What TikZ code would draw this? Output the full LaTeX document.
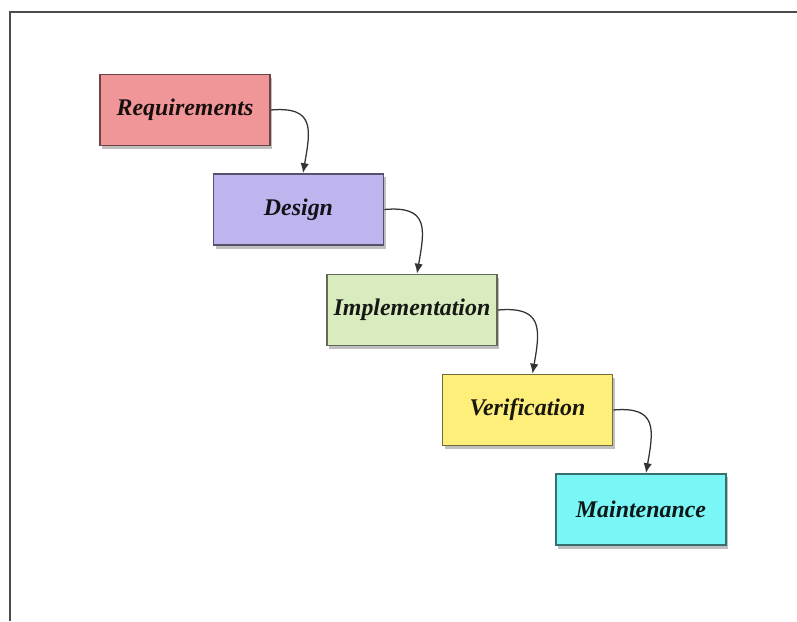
\documentclass[tikz,border=0pt]{standalone}
\usepackage{fontspec}
\setmainfont{Liberation Serif}
\usetikzlibrary{shadows,calc,arrows.meta}

\definecolor{reqfill}{RGB}{240,150,152}
\definecolor{desfill}{RGB}{190,180,238}
\definecolor{impfill}{RGB}{216,236,192}
\definecolor{verfill}{RGB}{254,238,122}
\definecolor{mntfill}{RGB}{122,246,246}

\begin{document}
\begin{tikzpicture}[x=0.025cm,y=-0.025cm,
		phase/.style={draw=#1!45!black,fill=#1,line width=1.2pt,
			minimum width=4.25cm,minimum height=1.78cm,inner sep=0pt,
			text=#1!10!black,font=\fontsize{17}{20}\selectfont\bfseries\itshape,
			drop shadow={shadow xshift=1.5pt,shadow yshift=-2.5pt,opacity=0.5}},
		flow/.style={-{Latex[length=7pt,width=6pt]},draw=black!80,line width=0.9pt,
			out=5,in=80,looseness=1.6}]
		\useasboundingbox (0,0) rectangle (797,621);

		% frame
		\draw[black!70,line width=1.4pt] (10,621) -- (10,12) -- (797,12);

		\node[phase=reqfill] (req) at (185,110) {Requirements};
		\node[phase=desfill] (des) at (298.5,209.5) {Design};
		\node[phase=impfill] (imp) at (412,310) {Implementation};
		\node[phase=verfill] (ver) at (527.5,410) {Verification};
		\node[phase=mntfill] (mnt) at (641,509.5) {Maintenance};

		\draw[flow] (req.east) to ($(des.north)+(4.5,0)$);
		\draw[flow] (des.east) to ($(imp.north)+(5,0)$);
		\draw[flow] (imp.east) to ($(ver.north)+(5,0)$);
		\draw[flow] (ver.east) to ($(mnt.north)+(5,0)$);
	\end{tikzpicture}
\end{document}
